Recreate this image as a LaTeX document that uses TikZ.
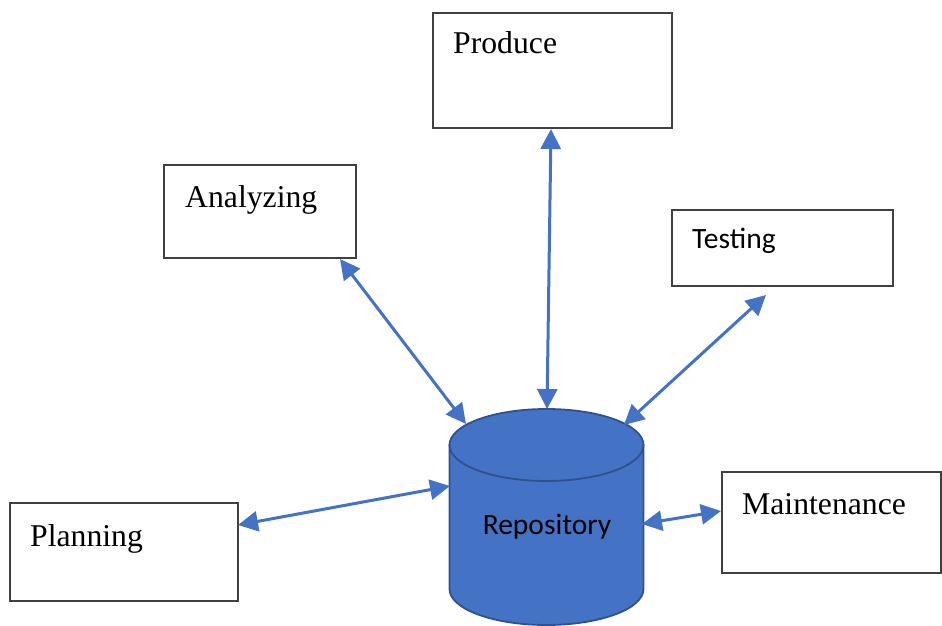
\documentclass[tikz,border=0pt]{standalone}
\usepackage{fontspec}
\setmainfont{Liberation Serif}
\newfontfamily\calfont{Carlito}
\usetikzlibrary{arrows.meta,positioning}
\definecolor{accent}{HTML}{4472C4}
\definecolor{accentdark}{HTML}{2F528F}
\definecolor{boxline}{HTML}{404040}
\tikzset{
  stagebox/.style={draw=boxline, line width=1.3pt, fill=white, rectangle, inner sep=0pt},
  seriflabel/.style={anchor=base west, inner sep=0pt, font=\fontsize{31.7}{36}\selectfont},
  sanslabel/.style={anchor=base west, inner sep=0pt, font=\calfont\fontsize{29.5}{34}\selectfont},
  link/.style={draw=accent, line width=3pt, {Triangle[length=20pt 0 0,width=20pt 0 0]}-{Triangle[length=20pt 0 0,width=20pt 0 0]}}
}
\begin{document}
\begin{tikzpicture}[x=1pt,y=-1pt]
\useasboundingbox (0,0) rectangle (942,626);

% stage boxes
\node[stagebox, minimum width=239pt, minimum height=115pt] (prod) at (552.5,70.5) {};
\node[stagebox, minimum width=192pt, minimum height=93pt]  (anal) at (260,211.5) {};
\node[stagebox, minimum width=221pt, minimum height=76pt]  (test) at (782.5,248) {};
\node[stagebox, minimum width=228pt, minimum height=98pt]  (plan) at (124,552) {};
\node[stagebox, minimum width=219pt, minimum height=101pt] (main) at (831.5,522.5) {};

% box captions
\node[seriflabel] (prodtxt) at (453,54)  {Produce};
\node[seriflabel] (analtxt) at (185,207) {Analyzing};
\node[sanslabel]  (testtxt) at (692,248) {Testing};
\node[seriflabel] (plantxt) at (30,546)  {Planning};
\node[seriflabel] (maintxt) at (742,514) {Maintenance};

% repository cylinder
\path[fill=accent, draw=accentdark, line width=1.8pt]
  (449.5,445) -- (449.5,589) arc[start angle=180, end angle=0, x radius=97, y radius=36]
  -- (643.5,445) -- cycle;
\draw[fill=accent, draw=accentdark, line width=1.8pt]
  (546.5,445) ellipse[x radius=97, y radius=36];
\node[font=\calfont\fontsize{29.5}{34}\selectfont, inner sep=0pt] (repo) at (547,527) {Repository};

% connector end points
\coordinate (prodEnd) at (551,129);
\coordinate (repoTop) at (547,409);
\coordinate (analEnd) at (340,259);
\coordinate (repoNW)  at (466,424);
\coordinate (testEnd) at (766,295);
\coordinate (repoNE)  at (624,425);
\coordinate (planEnd) at (238,525);
\coordinate (repoW)   at (450,486);
\coordinate (repoE)   at (642,524);
\coordinate (mainEnd) at (721,511);

% connectors
\draw[link] (prodEnd) -- (repoTop);
\draw[link] (analEnd) -- (repoNW);
\draw[link] (testEnd) -- (repoNE);
\draw[link] (planEnd) -- (repoW);
\draw[link] (repoE) -- (mainEnd);
\end{tikzpicture}
\end{document}
